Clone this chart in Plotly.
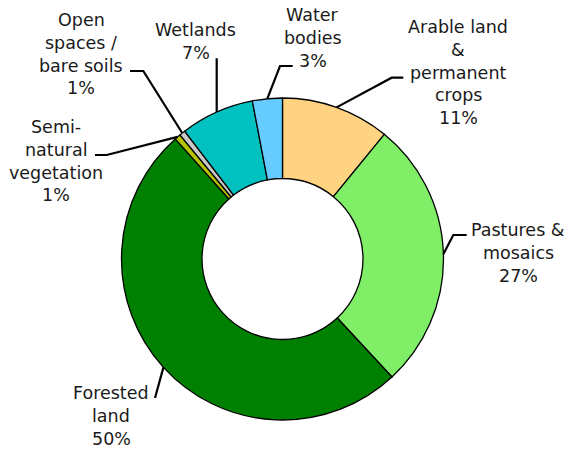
import math
import plotly.graph_objects as go

# Land cover shares (%), clockwise from 12 o'clock
categories = [
    "Arable land & permanent crops",
    "Pastures & mosaics",
    "Forested land",
    "Semi-natural vegetation",
    "Open spaces / bare soils",
    "Wetlands",
    "Water bodies",
]
label_lines = [
    ["Arable land", "&", "permanent", "crops"],
    ["Pastures &", "mosaics"],
    ["Forested", "land"],
    ["Semi-", "natural", "vegetation"],
    ["Open", "spaces /", "bare soils"],
    ["Wetlands"],
    ["Water", "bodies"],
]
shares = [10.9, 27.2, 50.3, 0.6, 0.6, 7.4, 3.0]
colors = ["#FFD381", "#80EE66", "#008000", "#B4C400", "#C8C8C8", "#00C0C0", "#66CCFF"]

W, H = 571, 453
CX, CY, R = 282.5, 259.0, 161.0      # donut centre and outer radius (px)
FONT = "DejaVu Sans, Verdana, sans-serif"
FS = 17.5
LINE_H = 22.8

# label block placement: centre x, first line y, leader-line bend points (px)
label_layout = [
    dict(x=458, y=27, bends=[(391.7, 77.7), (403.3, 77.7)]),
    dict(x=518, y=230, bends=[(453.3, 235), (466.7, 235)]),
    dict(x=111, y=393, bends=[(155, 398)]),
    dict(x=56, y=127, bends=[(106.7, 155), (95, 155)]),
    dict(x=81, y=20, bends=[(143.3, 71), (130, 71)]),
    dict(x=196, y=30, bends=[(216.7, 58.3)]),
    dict(x=312.5, y=15, bends=[(280, 66), (292.7, 66)]),
]


def px(x):
    return x / W


def py(y):
    return 1 - y / H


fig = go.Figure(
    go.Pie(
        labels=categories,
        values=shares,
        hole=0.5,
        sort=False,
        direction="clockwise",
        rotation=0,
        marker=dict(colors=colors, line=dict(color="black", width=1.3)),
        textinfo="none",
        hoverinfo="label+percent",
        domain=dict(x=[px(CX - R), px(CX + R)], y=[py(CY + R), py(CY - R)]),
        showlegend=False,
    )
)

total = sum(shares)
annotations = []
shapes = []
cum = 0.0
for name_lines, val, lay in zip(label_lines, shares, label_layout):
    mid = (cum + val / 2) / total
    cum += val
    ang = 2 * math.pi * mid
    ex, ey = CX + R * math.sin(ang), CY - R * math.cos(ang)
    pts = [(ex, ey)] + lay["bends"]
    path = "M " + " L ".join(f"{px(a):.5f},{py(b):.5f}" for a, b in pts)
    shapes.append(dict(type="path", xref="paper", yref="paper", path=path,
                       line=dict(color="black", width=2.2)))
    lines = name_lines + [f"{round(val / total * 100)}%"]
    for i, t in enumerate(lines):
        annotations.append(dict(
            text=t, xref="paper", yref="paper",
            x=px(lay["x"]), y=py(lay["y"] + i * LINE_H),
            xanchor="center", yanchor="middle", showarrow=False,
            font=dict(family=FONT, size=FS, color="#1a1a1a"),
        ))

fig.update_layout(
    width=W, height=H,
    margin=dict(l=0, r=0, t=0, b=0),
    paper_bgcolor="white",
    plot_bgcolor="white",
    annotations=annotations,
    shapes=shapes,
)

fig.write_html("out.html")
